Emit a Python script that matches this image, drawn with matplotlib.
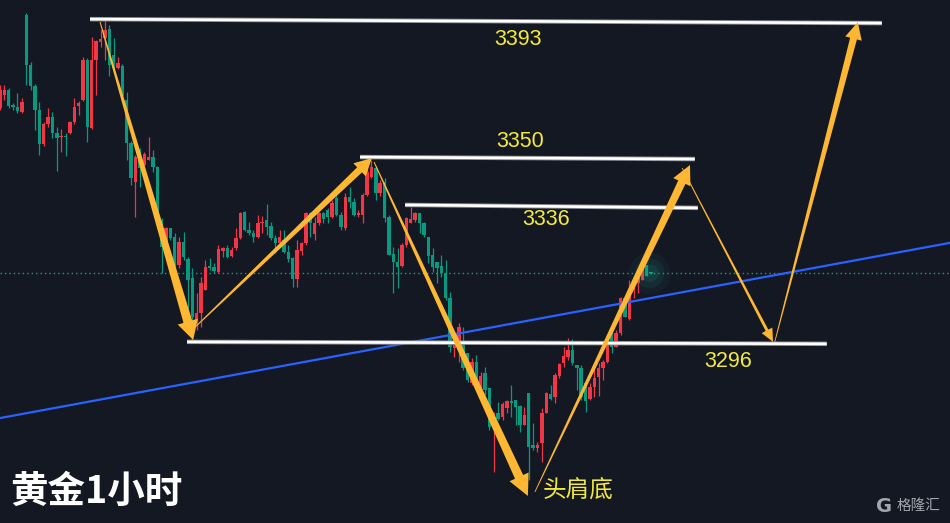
import numpy as np
import matplotlib
matplotlib.use('Agg')
import matplotlib.pyplot as plt
from matplotlib.patches import Polygon, Rectangle
from matplotlib.collections import LineCollection, PatchCollection
from matplotlib.transforms import IdentityTransform
import matplotlib.patheffects as pe

plt.rcParams['font.family'] = ['Noto Sans CJK SC', 'DejaVu Sans']

# ---------------- data (XAUUSD 1H candles) ----------------
opens = [3366.7, 3370.6, 3372.1, 3367.6, 3367.0, 3365.5, 3394.9, 3379.7, 3373.3, 3366.1,
         3355.8, 3361.8, 3363.9, 3359.1, 3357.9, 3358.2, 3359.1, 3362.4, 3367.3, 3369.1,
         3381.2, 3360.6, 3381.2, 3386.7, 3387.9, 3390.6, 3382.7, 3378.8, 3379.4, 3369.1,
         3356.1, 3344.3, 3351.8, 3349.4, 3350.9, 3351.8, 3348.8, 3332.7, 3324.6, 3330.3,
         3327.6, 3319.1, 3326.1, 3320.9, 3315.2, 3301.8, 3304.6, 3311.5, 3318.8, 3318.5,
         3317.0, 3323.3, 3324.3, 3321.8, 3324.3, 3327.3, 3335.2, 3329.7, 3328.8, 3327.6,
         3331.8, 3332.7, 3330.9, 3327.3, 3325.8, 3326.7, 3323.0, 3321.2, 3314.9, 3323.3,
         3325.8, 3334.9, 3328.5, 3331.8, 3334.9, 3335.8, 3333.6, 3339.4, 3334.3, 3330.3,
         3339.7, 3338.2, 3334.3, 3334.3, 3340.3, 3345.8, 3348.5, 3340.9, 3344.3, 3333.6,
         3322.4, 3320.0, 3318.8, 3325.2, 3331.8, 3332.7, 3334.9, 3331.8, 3327.6, 3322.1,
         3320.0, 3318.8, 3316.7, 3309.1, 3294.0, 3294.3, 3295.5, 3292.4, 3283.4, 3289.7,
         3282.1, 3286.4, 3281.8, 3270.0, 3274.3, 3273.0, 3275.8, 3277.9, 3278.2, 3276.4,
         3270.6, 3280.3, 3264.6, 3263.7, 3265.2, 3274.3, 3280.0, 3279.1, 3285.5, 3289.4,
         3291.2, 3293.3, 3288.8, 3287.9, 3283.4, 3278.5, 3282.1, 3285.2, 3287.9, 3289.7,
         3298.5, 3294.3, 3298.5, 3309.1, 3302.7, 3311.8, 3313.7, 3314.6, 3319.1, 3317.0]

closes = [3372.1, 3372.1, 3367.3, 3367.0, 3365.8, 3368.5, 3379.7, 3373.3, 3366.1, 3355.8,
          3361.8, 3363.9, 3359.1, 3357.6, 3358.2, 3357.9, 3362.4, 3367.0, 3368.2, 3381.2,
          3360.9, 3381.2, 3387.0, 3387.6, 3390.3, 3379.7, 3378.8, 3380.3, 3370.3, 3356.1,
          3345.5, 3351.8, 3348.5, 3352.7, 3351.8, 3348.8, 3332.7, 3324.6, 3330.3, 3327.3,
          3318.5, 3326.1, 3321.5, 3314.6, 3303.3, 3304.6, 3313.7, 3318.5, 3318.2, 3317.3,
          3324.0, 3324.3, 3321.5, 3323.6, 3327.3, 3334.9, 3329.7, 3328.8, 3327.6, 3331.8,
          3332.1, 3330.6, 3327.3, 3325.8, 3327.6, 3323.0, 3320.9, 3314.9, 3323.6, 3325.8,
          3334.9, 3331.8, 3331.8, 3334.9, 3333.0, 3333.6, 3337.9, 3334.3, 3330.6, 3339.7,
          3338.2, 3334.3, 3334.9, 3340.3, 3347.3, 3348.8, 3340.9, 3344.0, 3333.3, 3322.1,
          3320.0, 3318.5, 3325.2, 3333.3, 3333.0, 3334.9, 3331.8, 3328.2, 3321.8, 3318.5,
          3318.2, 3316.7, 3309.1, 3294.3, 3295.5, 3300.3, 3287.9, 3284.3, 3289.7, 3284.3,
          3285.5, 3281.2, 3270.0, 3274.3, 3272.4, 3277.0, 3277.9, 3277.3, 3276.1, 3270.6,
          3273.7, 3263.9, 3263.7, 3264.6, 3274.3, 3280.3, 3278.5, 3285.8, 3289.1, 3291.5,
          3293.3, 3289.4, 3287.9, 3279.1, 3277.9, 3282.1, 3284.9, 3287.9, 3289.7, 3297.6,
          3294.3, 3298.5, 3309.1, 3303.3, 3311.8, 3312.7, 3315.2, 3318.2, 3315.8, 3316.6]

highs = [3373.6, 3373.6, 3372.7, 3368.2, 3371.2, 3369.7, 3395.5, 3380.6, 3373.9, 3368.5,
         3362.4, 3366.7, 3365.5, 3360.9, 3360.3, 3359.1, 3362.7, 3369.7, 3368.8, 3382.1,
         3381.8, 3388.2, 3387.3, 3390.3, 3393.0, 3391.8, 3387.9, 3382.1, 3380.0, 3371.5,
         3356.7, 3352.4, 3354.6, 3353.3, 3357.9, 3354.0, 3349.1, 3333.3, 3330.6, 3330.3,
         3328.8, 3327.6, 3329.1, 3321.5, 3318.2, 3310.6, 3315.5, 3320.6, 3321.2, 3319.7,
         3325.2, 3324.6, 3325.2, 3324.6, 3330.3, 3335.2, 3335.5, 3332.1, 3329.7, 3334.3,
         3334.0, 3337.6, 3332.1, 3328.2, 3329.7, 3329.7, 3325.2, 3321.5, 3326.7, 3326.1,
         3335.2, 3335.2, 3333.6, 3335.2, 3335.2, 3336.4, 3338.8, 3340.9, 3335.2, 3340.9,
         3342.7, 3339.4, 3335.8, 3340.9, 3348.5, 3350.9, 3349.1, 3344.9, 3345.5, 3334.3,
         3324.6, 3324.3, 3325.8, 3333.6, 3336.7, 3335.2, 3334.9, 3332.1, 3327.6, 3324.3,
         3320.0, 3322.1, 3320.6, 3310.9, 3296.4, 3301.5, 3300.3, 3292.4, 3290.9, 3291.8,
         3286.7, 3288.2, 3281.8, 3274.6, 3277.6, 3277.6, 3278.2, 3282.7, 3278.2, 3276.7,
         3276.1, 3280.3, 3271.2, 3265.5, 3275.8, 3280.6, 3282.7, 3286.4, 3289.4, 3294.3,
         3297.0, 3296.7, 3288.8, 3288.8, 3283.7, 3283.4, 3289.4, 3289.4, 3290.3, 3297.9,
         3298.5, 3299.4, 3309.4, 3309.4, 3314.6, 3313.0, 3315.2, 3321.2, 3319.1, 3317.0]

lows = [3366.1, 3369.1, 3366.7, 3366.1, 3365.2, 3365.2, 3373.6, 3372.1, 3360.0, 3352.4,
        3355.2, 3360.9, 3357.6, 3347.6, 3353.3, 3352.1, 3358.8, 3361.8, 3364.6, 3368.8,
        3356.4, 3360.3, 3370.6, 3385.2, 3381.2, 3376.4, 3378.2, 3378.5, 3369.1, 3350.9,
        3343.3, 3333.6, 3342.7, 3349.1, 3350.9, 3347.3, 3332.7, 3316.7, 3323.6, 3326.7,
        3318.5, 3318.2, 3320.6, 3298.5, 3296.4, 3299.4, 3300.3, 3311.5, 3317.6, 3316.7,
        3316.7, 3321.5, 3321.2, 3321.5, 3323.6, 3327.0, 3329.4, 3328.2, 3326.1, 3327.3,
        3328.8, 3328.2, 3326.7, 3322.7, 3324.6, 3322.7, 3320.0, 3312.4, 3312.4, 3322.1,
        3325.2, 3327.6, 3326.7, 3331.2, 3331.8, 3331.8, 3333.3, 3334.0, 3329.7, 3329.7,
        3336.4, 3334.0, 3333.6, 3331.8, 3340.0, 3345.5, 3338.8, 3340.0, 3332.1, 3322.1,
        3310.6, 3312.1, 3318.5, 3324.6, 3331.8, 3332.1, 3328.8, 3327.6, 3319.7, 3317.0,
        3313.6, 3315.5, 3308.5, 3292.7, 3291.2, 3289.7, 3287.3, 3283.7, 3282.8, 3283.7,
        3280.6, 3279.7, 3269.1, 3256.4, 3272.1, 3272.1, 3274.3, 3273.0, 3270.6, 3268.5,
        3270.6, 3254.0, 3263.0, 3262.4, 3259.4, 3274.3, 3278.2, 3277.3, 3284.9, 3288.2,
        3290.3, 3288.8, 3281.2, 3278.2, 3274.6, 3278.2, 3279.1, 3279.4, 3284.3, 3289.4,
        3292.4, 3294.3, 3297.9, 3303.3, 3302.4, 3309.1, 3310.6, 3314.6, 3315.8, 3316.4]

# key levels (label, start bar, end bar, start price, end price)
level_labels = ['3393', '3350', '3336', '3296']
level_x0 = [20.6, 82.4, 92.7, 42.8]
level_x1 = [201.8, 159.0, 159.7, 189.2]
level_p0 = [3393.6, 3351.8, 3337.3, 3295.8]
level_p1 = [3392.4, 3351.2, 3336.4, 3295.2]

# rising trend line
trend_x = [0.0, 217.4]
trend_p = [3272.7, 3325.8]

# projected swing path arrows (start bar, start price, end bar, end price)
arrow_x0 = [22.9, 43.5, 85.6, 122.4, 156.1, 177.3]
arrow_p0 = [3392.7, 3298.8, 3350.3, 3250.3, 3348.5, 3295.8]
arrow_x1 = [44.2, 85.1, 120.8, 157.9, 176.9, 196.3]
arrow_p1 = [3296.4, 3351.5, 3249.1, 3349.4, 3295.8, 3392.7]

title_text = '黄金1小时'
pattern_text = '头肩底'
watermark_text = '格隆汇'

# ---------------- figure ----------------
BG = '#141823'
UP = '#F23645'
DOWN = '#089981'
GOLD = '#FDB733'
YEL = '#F3EA3C'

fig = plt.figure(figsize=(9.5, 5.23), dpi=100)
fig.patch.set_facecolor(BG)
ax = fig.add_axes([0, 0, 1, 1])
ax.set_facecolor(BG)
ax.set_xlim(0, 217.4)
ax.set_ylim(3240.9, 3399.4)
ax.axis('off')

n = len(closes)
segs, cols, rects, rcols = [], [], [], []
for i in range(n):
    o, c = opens[i], closes[i]
    h = max(highs[i], o, c)
    l = min(lows[i], o, c)
    col = UP if c >= o else DOWN
    segs.append([(i, l), (i, h)])
    cols.append(col)
    bot = min(o, c)
    ht = max(abs(c - o), 0.35)
    rects.append(Rectangle((i - 0.39, bot), 0.78, ht))
    rcols.append(col)
ax.add_collection(LineCollection(segs, colors=cols, linewidths=0.9, zorder=2))
ax.add_collection(PatchCollection(rects, facecolors=rcols, edgecolors='none', zorder=3))

# glow on last candle
for s, a in [(900, 0.05), (450, 0.08), (160, 0.12)]:
    ax.scatter([n - 1.3], [closes[-1]], s=s, color='#1fbf9f', alpha=a, edgecolors='none', zorder=3)

# current price dotted line
ax.axhline(closes[-1], color='#1e9c88', lw=1.0, ls=(0, (1, 2.2)), zorder=1)

# trend line
ax.plot(trend_x, trend_p, color='#2962FF', lw=1.6, zorder=4)

# levels
label_x = [118.5, 119.0, 124.9, 166.6]
label_p = [3387.3, 3356.4, 3333.0, 3289.7]
for k in range(len(level_labels)):
    ax.plot([level_x0[k], level_x1[k]], [level_p0[k], level_p1[k]], color='white', lw=1.9,
            solid_capstyle='butt', zorder=5,
            path_effects=[pe.Stroke(linewidth=3.2, foreground='#8c8f96'), pe.Normal()])
    ax.text(label_x[k], label_p[k], level_labels[k], color=YEL, fontsize=15.5,
            family=['Liberation Sans', 'DejaVu Sans'], ha='center', va='center', zorder=7)

# tapered arrows
arrow_style = [(1.0, 9, 19, 21), (0.8, 7, 17, 18), (1.0, 9, 21, 21),
               (0.8, 8, 19, 19), (0.8, 3, 13, 12), (0.8, 7, 17, 17)]
fig.canvas.draw()
for k in range(len(arrow_x0)):
    w0, w1, hl, hw = arrow_style[k]
    p0 = ax.transData.transform((arrow_x0[k], arrow_p0[k]))
    p1 = ax.transData.transform((arrow_x1[k], arrow_p1[k]))
    d = p1 - p0
    L = np.hypot(*d)
    u = d / L
    nv = np.array([-u[1], u[0]])
    s = p1 - u * hl
    pts = [p0 + nv * w0 / 2, s + nv * w1 / 2, s + nv * hw / 2, p1,
           s - nv * hw / 2, s - nv * w1 / 2, p0 - nv * w0 / 2]
    poly = Polygon(pts, closed=True, transform=IdentityTransform(), facecolor=GOLD,
                   edgecolor='none', zorder=8)
    fig.add_artist(poly)

# texts
fig.text(10 / 950, 1 - 491 / 523, title_text, color='white', fontsize=27, weight='bold',
         ha='left', va='center')
fig.text(543 / 950, 1 - 490 / 523, pattern_text, color=YEL, fontsize=17,
         ha='left', va='center')
fig.text(876 / 950, 1 - 506 / 523, 'G', color='#a3a6ad', fontsize=14, weight='bold',
         ha='left', va='center', family=['DejaVu Sans'])
fig.text(897 / 950, 1 - 506 / 523, watermark_text, color='#a3a6ad', fontsize=10.5,
         ha='left', va='center')

fig.savefig('out.png', dpi=100, facecolor=BG)
